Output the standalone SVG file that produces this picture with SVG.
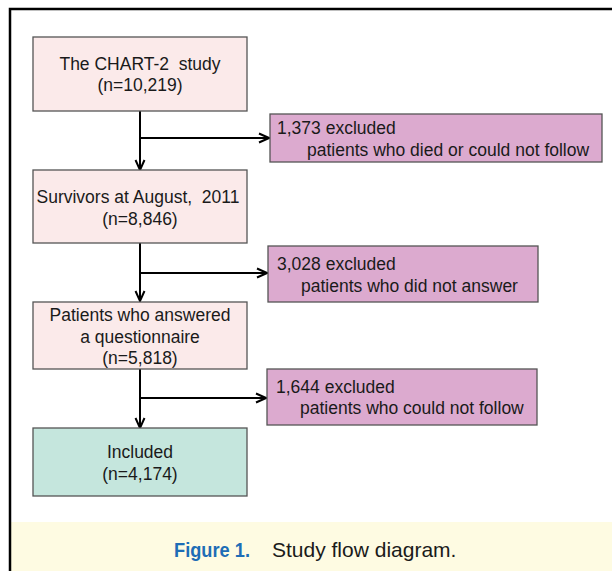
<svg xmlns="http://www.w3.org/2000/svg" width="612" height="571" viewBox="0 0 612 571">
<style>
.t{font-family:"Liberation Sans",Arial,sans-serif;font-size:17.5px;fill:#1a1a1a;white-space:pre}
.c{text-anchor:middle}
.main{fill:#FBEAEA;stroke:#555;stroke-width:1.3}
.exc{fill:#DCAACF;stroke:#555;stroke-width:1.3}
.inc{fill:#C5E6DD;stroke:#555;stroke-width:1.3}
.ln{fill:none;stroke:#000;stroke-width:2}
</style>
<defs>
<marker id="ah" viewBox="0 0 12 12" refX="11" refY="6" markerWidth="12" markerHeight="12" markerUnits="userSpaceOnUse" orient="auto">
<path d="M1,1.5 L11,6 L1,10.5" fill="none" stroke="#000" stroke-width="2"/>
</marker>
</defs>
<rect x="0" y="0" width="612" height="571" fill="#fff"/>
<rect x="11" y="522" width="601" height="49" fill="#FEFBE2"/>
<path d="M10,571 V9 H612" fill="none" stroke="#000" stroke-width="2.5"/>
<g id="connectors">
<line class="ln" x1="140" y1="111" x2="140" y2="170" marker-end="url(#ah)"/>
<line class="ln" x1="140" y1="138" x2="269" y2="138" marker-end="url(#ah)"/>
<line class="ln" x1="140" y1="243" x2="140" y2="301" marker-end="url(#ah)"/>
<line class="ln" x1="140" y1="273" x2="267" y2="273" marker-end="url(#ah)"/>
<line class="ln" x1="140" y1="369" x2="140" y2="428" marker-end="url(#ah)"/>
<line class="ln" x1="140" y1="398" x2="266" y2="398" marker-end="url(#ah)"/>
</g>
<g id="n1">
<rect class="main" x="33" y="37" width="214" height="74"/>
<text class="t c" x="140" y="70">The CHART-2  study</text>
<text class="t c" x="140" y="91">(n=10,219)</text>
</g>
<g id="e1">
<rect class="exc" x="270" y="114" width="332" height="48"/>
<text class="t" x="277" y="134">1,373 excluded</text>
<text class="t" x="307" y="156">patients who died or could not follow</text>
</g>
<g id="n2">
<rect class="main" x="33" y="170" width="214" height="73"/>
<text class="t c" x="138" y="203">Survivors at August,  2011</text>
<text class="t c" x="140" y="225">(n=8,846)</text>
</g>
<g id="e2">
<rect class="exc" x="268" y="246" width="270" height="56"/>
<text class="t" x="277" y="270">3,028 excluded</text>
<text class="t" x="301" y="292">patients who did not answer</text>
</g>
<g id="n3">
<rect class="main" x="33" y="302" width="214" height="67"/>
<text class="t c" x="140" y="321">Patients who answered</text>
<text class="t c" x="140" y="343">a questionnaire</text>
<text class="t c" x="140" y="364">(n=5,818)</text>
</g>
<g id="e3">
<rect class="exc" x="267" y="369" width="270" height="56"/>
<text class="t" x="276" y="393">1,644 excluded</text>
<text class="t" x="300" y="414">patients who could not follow</text>
</g>
<g id="n4">
<rect class="inc" x="33" y="428" width="214" height="68"/>
<text class="t c" x="140" y="458">Included</text>
<text class="t c" x="140" y="480">(n=4,174)</text>
</g>
<g id="caption">
<text x="174" y="557" textLength="76" lengthAdjust="spacingAndGlyphs" style="font-family:'Liberation Sans',Arial,sans-serif;font-size:21px;font-weight:bold;fill:#1E6DB6">Figure 1.</text>
<text x="272" y="557" style="font-family:'Liberation Sans',Arial,sans-serif;font-size:21px;fill:#1a1a1a">Study flow diagram.</text>
</g>
</svg>
